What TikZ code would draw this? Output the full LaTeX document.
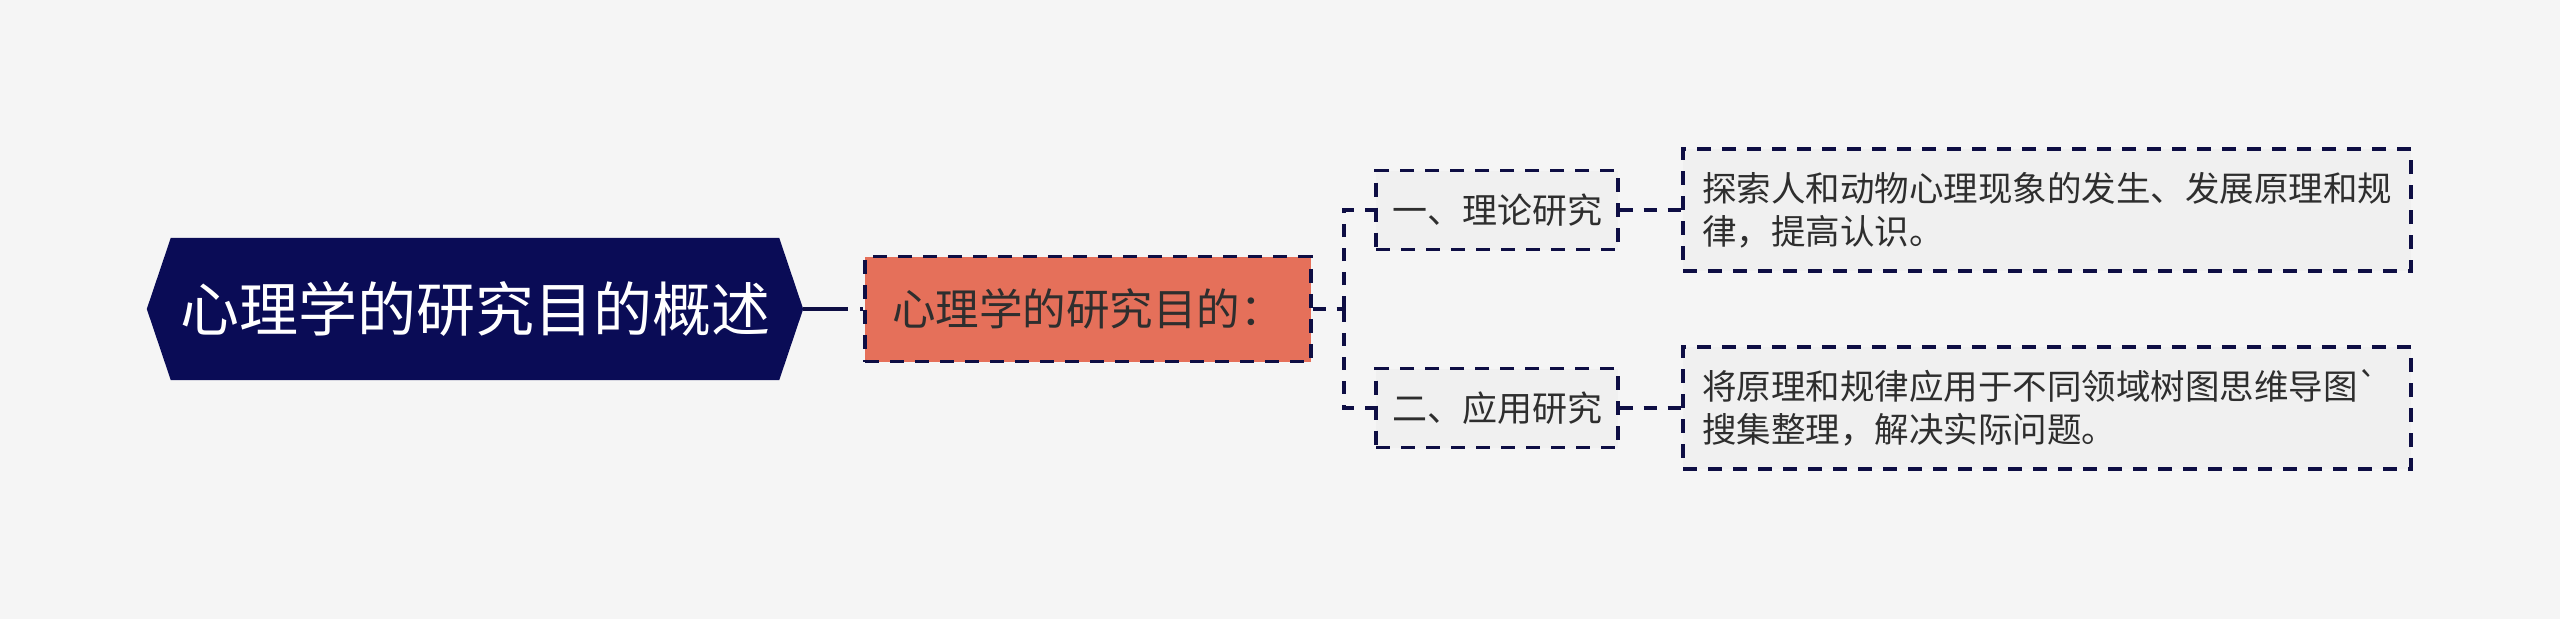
\documentclass[tikz,border=0pt]{standalone}
\usepackage{fontspec}
\setmainfont{Noto Sans CJK SC}
\usetikzlibrary{backgrounds}
\definecolor{pagebg}{HTML}{F5F5F5}
\definecolor{navy}{HTML}{0A0C56}
\definecolor{edge}{HTML}{0E0E44}
\definecolor{salmon}{HTML}{E5705A}
\definecolor{boxfill}{HTML}{F0F0F0}
\definecolor{txt}{HTML}{2E2E2E}
\tikzset{
  rootbox/.style={minimum width=656pt, minimum height=142pt, inner sep=0pt, text=white,
    font=\fontsize{59}{70}\selectfont},
  dashedge/.style={draw=edge, line width=3.2pt, dash pattern=on 14pt off 11pt},
  midbox/.style={dashedge, fill=salmon,
    minimum width=446pt, minimum height=105pt, inner sep=0pt, text=txt,
    font=\fontsize{43.5}{52}\selectfont},
  branchbox/.style={dashedge, fill=boxfill,
    minimum width=242pt, minimum height=79pt, inner sep=0pt, text=txt,
    font=\fontsize{35}{43}\selectfont},
  leafbox/.style={dashedge, fill=boxfill,
    minimum width=728pt, minimum height=122pt, inner xsep=19pt, inner ysep=0pt,
    text width=690pt, align=left, text=txt,
    font=\fontsize{34.5}{43}\selectfont},
  conn/.style={draw=edge, line width=3.2pt, dash pattern=on 13pt off 11pt},
  rootconn/.style={draw=edge, line width=4pt, dash pattern=on 45pt off 12pt},
}
\begin{document}
\begin{tikzpicture}[x=1pt,y=-1pt]
\useasboundingbox (0,0) rectangle (2560,619);
\node[rootbox] (root) at (475,309) {心理学的研究目的概述};
\begin{scope}[on background layer]
  \fill[pagebg] (0,0) rectangle (2560,619);
  \fill[navy] (root.west) -- ([xshift=24pt]root.north west) -- ([xshift=-24pt]root.north east)
    -- (root.east) -- ([xshift=-24pt]root.south east) -- ([xshift=24pt]root.south west) -- cycle;
\end{scope}
\node[midbox] (mid) at (1088,309) {心理学的研究目的：};
\node[branchbox] (b1) at (1497,210) {一、理论研究};
\node[branchbox] (b2) at (1497,408) {二、应用研究};
\node[leafbox] (l1) at (2047,210) {探索人和动物心理现象的发生、发展原理和规\\律，提高认识。};
\node[leafbox] (l2) at (2047,408) {将原理和规律应用于不同领域树图思维导图\textasciigrave\\搜集整理，解决实际问题。};
\coordinate (j) at (1344,309);
\draw[rootconn] (root.east) -- (mid.west);
\draw[conn] (mid.east) -- (j);
\draw[conn] (j) |- (b1.west);
\draw[conn] (j) |- (b2.west);
\draw[conn] (b1.east) -- (l1.west);
\draw[conn] (b2.east) -- (l2.west);
\end{tikzpicture}
\end{document}
